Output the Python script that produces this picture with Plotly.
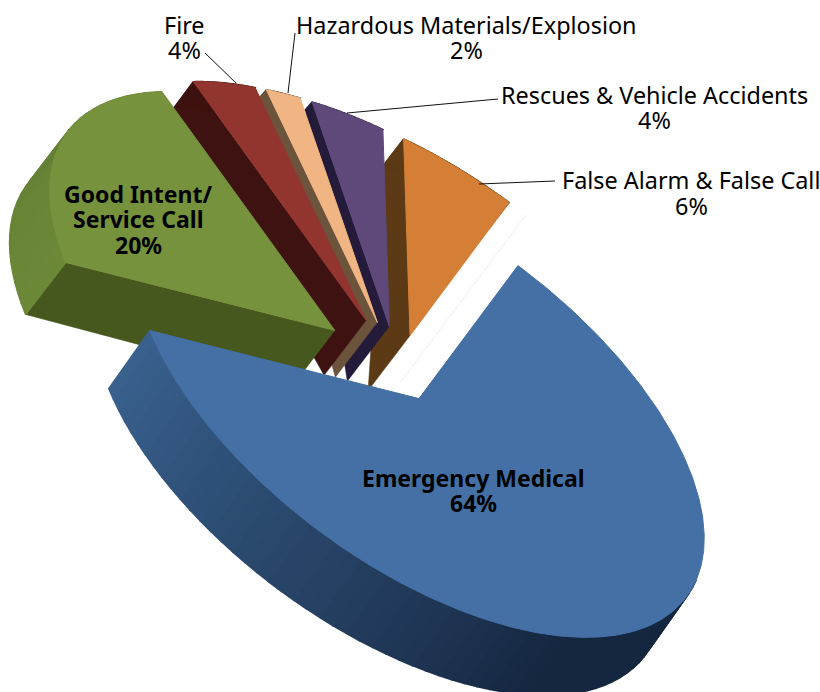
import numpy as np
import plotly.graph_objects as go

# Data
categories = ["Emergency Medical", "Good Intent/ Service Call", "Fire",
              "Hazardous Materials/Explosion", "Rescues & Vehicle Accidents",
              "False Alarm & False Call"]
shares = [64, 20, 4, 2, 4, 6]
pulls = [0.10, 0.235, 0.23, 0.23, 0.23, 0.235]

# Style
top_colors = ["#4470A5", "#76923C", "#93352F", "#F0B583", "#5F497A", "#D47F35"]
side_colors = ["#3A6391", "#47581F", "#3E1210", "#6B533C", "#241A3A", "#5B3A15"]
wall_start = ["#3A6391", "#5F7A32", "#3E1210", "#6B533C", "#241A3A", "#5B3A15"]
wall_end = ["#15263F", "#6C8938", "#3E1210", "#6B533C", "#241A3A", "#5B3A15"]
far_depth = [(-41, 58), (-40, 52), (-20, 27), (-7, 8), (-7, 8), (-20, 26)]
near_depth = (-42, 55)
wall_from = [82, 0, 0, 0, 0, 0]

# Projection of the pie's plane on to the page
centre = np.array([399.0, 375.0])
axis_a = np.array([99.0, -133.0])
axis_b = np.array([267.5, 198.3])


def rim(theta):
    t = np.radians(theta)
    return np.outer(np.cos(t), axis_a) + np.outer(np.sin(t), axis_b)


def hex_rgb(c):
    return np.array([int(c[i:i + 2], 16) for i in (1, 3, 5)], float)


def mix(c1, c2, f):
    v = hex_rgb(c1) * (1 - f) + hex_rgb(c2) * f
    return "rgb(%d,%d,%d)" % tuple(v.round())


fig = go.Figure()


def poly(pts, color, width=0.5):
    pts = np.asarray(pts)
    fig.add_trace(go.Scatter(
        x=np.append(pts[:, 0], pts[0, 0]), y=np.append(pts[:, 1], pts[0, 1]),
        mode="lines", fill="toself", fillcolor=color,
        line=dict(color=color, width=width), hoverinfo="skip", showlegend=False))


edges = np.cumsum([0] + shares) / sum(shares) * 360.0
for i in reversed(range(len(shares))):
    t0, t1 = edges[i], edges[i + 1]
    mid = (t0 + t1) / 2
    apex = centre + pulls[i] * rim(np.array([mid]))[0]
    thetas = np.linspace(t0, t1, max(int((t1 - t0) * 1.5), 8))
    outer = apex + rim(thetas)
    far = np.array(far_depth[i], float)
    near = np.array(near_depth, float)
    # radial side face
    if i > 0:
        poly([apex, outer[0], outer[0] + far, apex + near], side_colors[i])
    # outer wall, banded
    step = 1 if i > 1 else 4
    idx = list(range(0, len(thetas), step))
    if idx[-1] != len(thetas) - 1:
        idx.append(len(thetas) - 1)
    for j in range(len(idx) - 1):
        a, b = idx[j], idx[j + 1]
        if thetas[a] < wall_from[i]:
            continue
        if i == 0:
            f = np.clip((232 - thetas[a]) / 105, 0, 1)
        else:
            f = 1 - j / max(len(idx) - 2, 1)
        poly([outer[a], outer[b], outer[b] + far, outer[a] + far],
             mix(wall_start[i], wall_end[i], f), width=1.5)
    # top face
    poly(np.vstack([apex, outer]), top_colors[i], width=1)

# faint highlight left by the orange slice
fig.add_trace(go.Scatter(x=[400, 526], y=[383, 215], mode="lines",
                         line=dict(color="#EDEDED", width=1),
                         hoverinfo="skip", showlegend=False))

# Leader lines
leaders = [([205, 236], [53, 83]), ([295, 288], [33, 93]),
           ([498, 347], [99, 113]), ([555, 479], [181, 184])]
for lx, ly in leaders:
    fig.add_trace(go.Scatter(x=lx, y=ly, mode="lines",
                             line=dict(color="#111111", width=1),
                             hoverinfo="skip", showlegend=False))

# Labels
FONT = "Noto Sans"
labels = [
    ("Fire", 184, 25, 23.4, False), (f"{shares[2]}%", 184, 50, 23.4, False),
    ("Hazardous Materials/Explosion", 466, 25, 23.4, False), (f"{shares[3]}%", 466, 50, 23.4, False),
    ("Rescues & Vehicle Accidents", 654, 95, 23.4, False), (f"{shares[4]}%", 654, 120, 23.4, False),
    ("False Alarm & False Call", 691, 180, 23.4, False), (f"{shares[5]}%", 691, 206, 23.4, False),
    ("Good Intent/", 138, 194, 23, True), ("Service Call", 138, 219, 23, True), (f"{shares[1]}%", 138, 245, 23, True),
    ("Emergency Medical", 473, 478, 23, True), (f"{shares[0]}%", 473, 503, 23, True),
]
for text, x, y, size, bold in labels:
    fig.add_annotation(x=x, y=y, text=f"<b>{text}</b>" if bold else text, showarrow=False,
                       xanchor="center", yanchor="middle",
                       font=dict(family=FONT, size=size, color="#000000"))

fig.update_layout(
    width=820, height=692, margin=dict(l=0, r=0, t=0, b=0),
    paper_bgcolor="white", plot_bgcolor="white", showlegend=False,
    xaxis=dict(range=[0, 820], visible=False, fixedrange=True),
    yaxis=dict(range=[692, 0], visible=False, fixedrange=True),
)
fig.write_html("out.html", config=dict(displayModeBar=False),
               post_script="document.body.style.margin='0';document.body.style.overflow='hidden';")
